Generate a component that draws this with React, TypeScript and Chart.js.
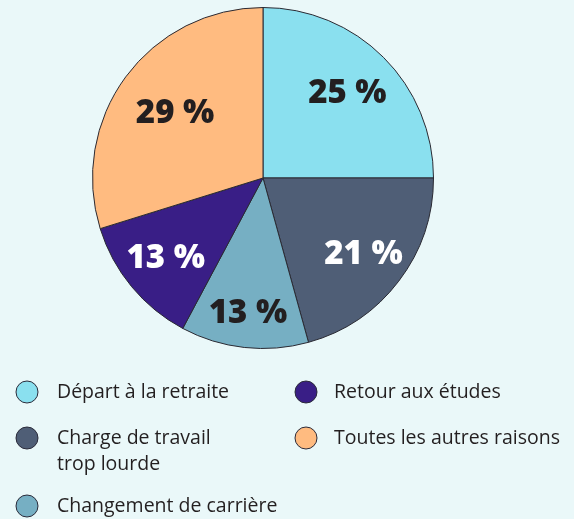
import React, { useEffect, useRef } from "react";
import { Chart, registerables } from "chart.js";

Chart.register(...registerables);

const categories = [
  "Départ à la retraite",
  "Charge de travail\ntrop lourde",
  "Changement de carrière",
  "Retour aux études",
  "Toutes les autres raisons",
];
const sliceValues = [25, 20.7, 12.1, 12.4, 29.8];
const valueLabels = ["25 %", "21 %", "13 %", "13 %", "29 %"];
const sliceColors = ["#8AE0EF", "#4F5E76", "#76AFC3", "#391E86", "#FFBB80"];
const labelColors = ["#231F20", "#FFFFFF", "#231F20", "#FFFFFF", "#231F20"];
const labelRadius = [0.7, 0.74, 0.8, 0.74, 0.64];

const BG = "#EAF8F9";

const sliceLabelPlugin = {
  id: "sliceLabels",
  afterDatasetsDraw(chart: any) {
    const ctx = chart.ctx;
    const meta = chart.getDatasetMeta(0);
    ctx.save();
    ctx.font = "800 33px 'Open Sans'";
    ctx.textAlign = "center";
    ctx.textBaseline = "middle";
    meta.data.forEach((arc: any, i: number) => {
      const { x, y, startAngle, endAngle, outerRadius } = arc.getProps(
        ["x", "y", "startAngle", "endAngle", "outerRadius"],
        true
      );
      const mid = (startAngle + endAngle) / 2;
      const r = outerRadius * labelRadius[i];
      ctx.fillStyle = labelColors[i];
      ctx.fillText(valueLabels[i], x + Math.cos(mid) * r, y + Math.sin(mid) * r);
    });
    ctx.restore();
  },
};

const legendPlugin = {
  id: "customLegend",
  afterDraw(chart: any) {
    const ctx = chart.ctx;
    const cols = [
      { cx: 27, tx: 57, items: [0, 1, 2] },
      { cx: 306, tx: 334, items: [3, 4] },
    ];
    const rowsY = [392, 438, 506];
    ctx.save();
    ctx.font = "500 19.5px 'Open Sans'";
    ctx.textBaseline = "middle";
    ctx.textAlign = "left";
    cols.forEach((col) => {
      col.items.forEach((idx, row) => {
        const y = rowsY[row];
        ctx.beginPath();
        ctx.arc(col.cx, y, 11, 0, Math.PI * 2);
        ctx.fillStyle = sliceColors[idx];
        ctx.fill();
        ctx.lineWidth = 1;
        ctx.strokeStyle = "#2B2B3A";
        ctx.stroke();
        ctx.fillStyle = "#231F20";
        categories[idx].split("\n").forEach((line, li) => {
          ctx.fillText(line, col.tx, y + li * 26);
        });
      });
    });
    ctx.restore();
  },
};

const bgPlugin = {
  id: "bg",
  beforeDraw(chart: any) {
    const ctx = chart.ctx;
    ctx.save();
    ctx.fillStyle = BG;
    ctx.fillRect(0, 0, chart.width, chart.height);
    ctx.restore();
  },
};

export default function App() {
  const ref = useRef<HTMLCanvasElement>(null);
  useEffect(() => {
    document.body.style.margin = "0";
    document.body.style.background = BG;
    const chart = new Chart(ref.current!, {
      type: "pie",
      data: {
        labels: categories,
        datasets: [
          {
            data: sliceValues,
            backgroundColor: sliceColors,
            borderColor: "#2A2A33",
            borderWidth: 1,
          },
        ],
      },
      options: {
        animation: false,
        responsive: false,
        layout: { padding: { left: 92, right: 140, top: 7, bottom: 170 } },
        plugins: { legend: { display: false }, tooltip: { enabled: false } },
      },
      plugins: [bgPlugin, sliceLabelPlugin, legendPlugin],
    });
    return () => chart.destroy();
  }, []);
  return (
    <div style={{ width: 574, height: 519 }}>
      <canvas ref={ref} width={574} height={519} />
    </div>
  );
}
